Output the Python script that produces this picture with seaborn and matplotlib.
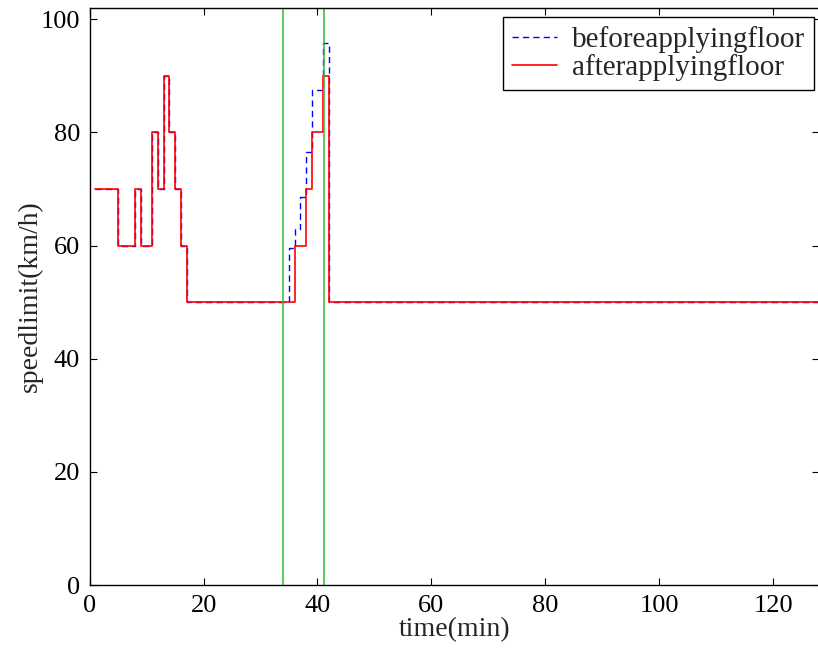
import numpy as np
import pandas as pd
import matplotlib
matplotlib.use("Agg")
import matplotlib.pyplot as plt
import seaborn as sns

# step change points (minute) and speed limit level from that minute on
before_t = [1, 5, 8, 9, 11, 12, 13, 14, 15, 16, 17, 35, 36, 37, 38, 39, 41, 42, 128]
before_v = [70, 60, 70, 60, 80, 70, 90, 80, 70, 60, 50, 59.5, 63, 68.5, 76.5, 87.4, 95.8, 50, 50]

after_t = [1, 5, 8, 9, 11, 12, 13, 14, 15, 16, 17, 36, 38, 39, 41, 42, 128]
after_v = [70, 60, 70, 60, 80, 70, 90, 80, 70, 60, 50, 60, 70, 80, 90, 50, 50]

marker_times = [34, 41.1]

before = pd.DataFrame({"t": before_t, "v": before_v})
after = pd.DataFrame({"t": after_t, "v": after_v})

sns.set_style("ticks")
plt.rcParams["font.family"] = ["Liberation Serif", "DejaVu Serif"]
plt.rcParams["font.size"] = 20

fig = plt.figure(figsize=(8.18, 6.53), dpi=100)
ax = fig.add_axes([0.1097, 0.104, 0.891, 0.884])

sns.lineplot(data=before, x="t", y="v", ax=ax, color="blue", linestyle=(0, (4.5, 3)),
             linewidth=1.0, drawstyle="steps-post", label="beforeapplyingfloor")
sns.lineplot(data=after, x="t", y="v", ax=ax, color="red", linewidth=1.2,
             drawstyle="steps-post", label="afterapplyingfloor")
for mt in marker_times:
    ax.axvline(mt, color=(0.2, 0.72, 0.2), linewidth=1.1)

ax.set_xlim(0, 128)
ax.set_ylim(0, 102)
ax.set_xticks([0, 20, 40, 60, 80, 100, 120])
ax.set_yticks([0, 20, 40, 60, 80, 100])
ax.tick_params(direction="in", top=True, right=True, length=5, width=0.8,
               labelsize=19, pad=7, colors="black")
for s in ax.spines.values():
    s.set_linewidth(1.0)
    s.set_color("black")

ax.set_xlabel("time(min)", fontsize=20, labelpad=0)
ax.set_ylabel("speedlimit(km/h)", fontsize=20, labelpad=-2)

leg = ax.legend(loc="upper right", fontsize=21, frameon=True, fancybox=False,
                edgecolor="black", framealpha=1, handlelength=1.55,
                handletextpad=0.5, bbox_to_anchor=(0.9935, 0.984),
                borderaxespad=0, borderpad=0.3, labelspacing=0.05)
leg.get_frame().set_linewidth(1.0)

fig.savefig("out.png", dpi=100)
